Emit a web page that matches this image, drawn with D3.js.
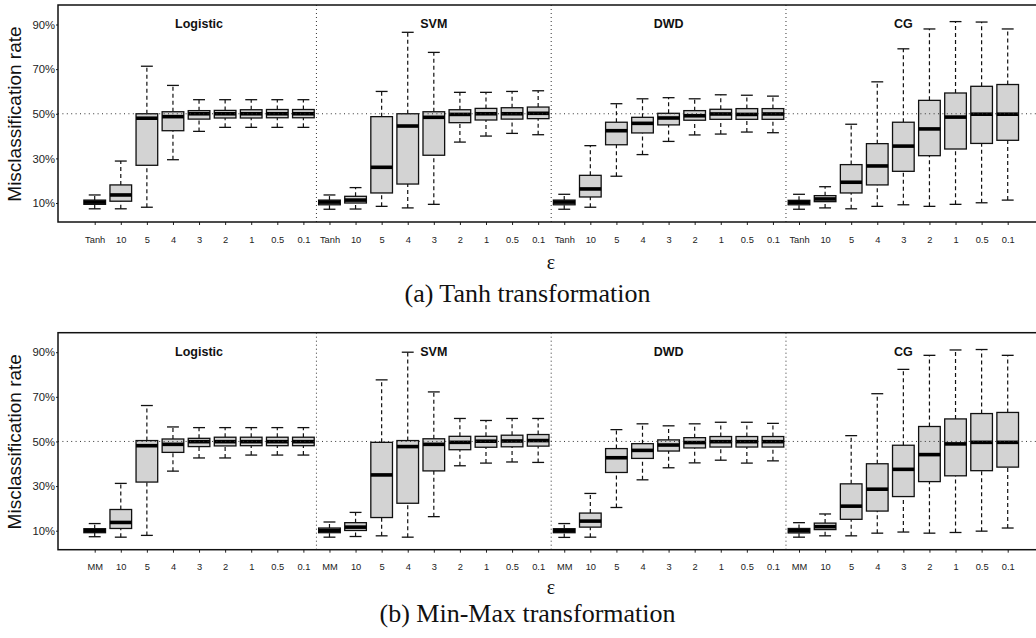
<!DOCTYPE html>
<html>
<head>
<meta charset="utf-8">
<script src="https://cdn.jsdelivr.net/npm/d3@7"></script>
<style>
  body { margin: 0; background: #fff; }
  svg { display: block; }
  .tick text { font-family: "Liberation Sans", Arial, sans-serif; fill: #222; }
</style>
</head>
<body>
<script>
// panel names and x labels
const methods = ['Logistic', 'SVM', 'DWD', 'CG'];
const epsTanh = ['Tanh', '10', '5', '4', '3', '2', '1', '0.5', '0.1'];
const epsMinMax = ['MM', '10', '5', '4', '3', '2', '1', '0.5', '0.1'];
const yTicks = [10, 30, 50, 70, 90];

// boxes: [lower whisker, Q1, median, Q3, upper whisker] in %
const tanhLogistic = [
  [7.4, 9.4, 10.4, 11.3, 13.6], [7.4, 10.8, 13.6, 18.1, 28.8], [8.1, 26.9, 48.0, 50.0, 71.3],
  [29.4, 42.4, 48.7, 50.9, 62.7], [42.1, 47.6, 50.0, 51.4, 56.3], [43.9, 48.1, 50.0, 51.5, 56.3],
  [43.9, 48.1, 50.0, 51.8, 56.3], [43.9, 48.2, 50.0, 51.9, 56.3], [43.9, 48.2, 50.0, 51.9, 56.3],
];
const tanhSVM = [
  [7.2, 9.2, 10.4, 11.3, 13.6], [7.3, 10.0, 11.3, 13.0, 16.9], [8.5, 14.5, 26.0, 48.7, 60.0],
  [7.8, 18.5, 44.5, 50.0, 86.5], [9.4, 31.4, 48.4, 50.9, 77.5], [37.3, 46.0, 49.7, 51.8, 59.6],
  [40.0, 47.2, 50.0, 52.4, 59.6], [41.2, 47.6, 50.0, 52.7, 60.0], [40.6, 47.8, 50.2, 53.0, 60.3],
];
const tanhDWD = [
  [7.2, 9.2, 10.4, 11.3, 13.9], [8.1, 12.7, 16.3, 22.4, 35.7], [22.0, 36.1, 42.4, 46.2, 54.5],
  [31.7, 41.4, 45.7, 48.4, 56.7], [37.6, 45.0, 48.1, 50.2, 57.2], [40.5, 47.1, 49.1, 51.4, 56.7],
  [40.9, 47.5, 49.9, 52.0, 58.5], [41.8, 47.5, 49.7, 52.3, 58.3], [41.5, 47.5, 49.9, 52.3, 57.9],
];
const tanhCG = [
  [7.2, 9.2, 10.3, 11.2, 13.9], [7.8, 10.6, 11.8, 13.3, 17.3], [7.4, 14.5, 19.3, 27.2, 45.3],
  [8.5, 18.1, 26.6, 36.6, 64.3], [9.2, 24.2, 35.5, 46.2, 79.1], [8.5, 31.2, 43.2, 56.0, 88.0],
  [9.4, 34.2, 48.5, 59.3, 91.3], [10.1, 36.7, 49.8, 62.3, 91.1], [11.3, 38.1, 49.8, 63.1, 88.0],
];
const mmLogistic = [
  [7.3, 9.1, 10.0, 10.9, 13.2], [7.1, 11.0, 13.7, 19.5, 31.2], [7.9, 31.8, 48.1, 50.4, 66.1],
  [36.7, 45.1, 48.7, 51.1, 56.5], [42.6, 47.7, 49.9, 51.4, 56.2], [42.6, 48.0, 49.9, 51.9, 56.2],
  [43.9, 48.1, 49.9, 51.9, 56.2], [43.9, 48.1, 49.9, 51.9, 56.2], [43.9, 48.1, 49.9, 51.9, 56.2],
];
const mmSVM = [
  [7.1, 9.1, 10.1, 11.2, 13.9], [7.4, 10.1, 11.6, 13.6, 18.2], [7.7, 15.9, 35.0, 49.6, 77.6],
  [7.1, 22.3, 47.7, 50.4, 90.0], [16.3, 36.8, 48.7, 51.2, 72.2], [39.1, 46.3, 49.6, 52.3, 60.3],
  [40.3, 47.4, 50.1, 52.3, 59.4], [40.8, 47.6, 50.2, 52.8, 60.3], [40.6, 47.9, 50.4, 53.1, 60.3],
];
const mmDWD = [
  [7.0, 9.1, 10.0, 10.9, 13.2], [7.1, 11.6, 14.3, 17.9, 26.7], [20.4, 36.1, 42.7, 46.8, 55.3],
  [32.8, 42.4, 46.0, 49.0, 57.9], [38.2, 45.7, 48.4, 50.7, 57.0], [40.4, 47.1, 49.5, 51.7, 57.9],
  [41.6, 47.5, 49.9, 52.2, 58.6], [40.3, 47.5, 49.9, 52.2, 58.6], [41.3, 47.5, 49.9, 52.2, 58.1],
];
const mmCG = [
  [7.1, 9.0, 10.0, 11.0, 13.6], [7.7, 10.5, 11.8, 13.4, 17.5], [7.7, 15.1, 21.0, 31.0, 52.6],
  [8.9, 18.8, 28.6, 40.0, 71.4], [9.4, 25.3, 37.5, 48.3, 82.3], [8.9, 32.0, 44.1, 56.7, 88.6],
  [9.2, 34.6, 48.9, 60.1, 91.0], [9.8, 36.9, 49.6, 62.5, 91.2], [11.2, 38.5, 49.6, 63.0, 88.6],
];

const figures = [
  { eps: epsTanh, boxes: [tanhLogistic, tanhSVM, tanhDWD, tanhCG], caption: '(a) Tanh transformation', dy: 0, epsY: 269, capY: 302 },
  { eps: epsMinMax, boxes: [mmLogistic, mmSVM, mmDWD, mmCG], caption: '(b) Min-Max transformation', dy: 327.7, epsY: 266, capY: 622 },
];

const width = 1036, height = 638;
const frame = { left: 58, right: 1040, top: 5, bottom: 222 };
const sans = '"Liberation Sans", Arial, sans-serif';
const serif = '"Liberation Serif", "Times New Roman", serif';

const x = d3.scaleLinear().domain([1, 36]).range([94.7, 1007.7]);
const y = d3.scaleLinear().domain([10, 90]).range([203, 24.5]);
const step = x(2) - x(1);
const bw = step * 0.83;
const cap = bw * 0.55;

const svg = d3.select('body').append('svg')
  .attr('width', width)
  .attr('height', height);

figures.forEach((fig) => {
  const g = svg.append('g').attr('transform', `translate(0,${fig.dy})`);
  const labels = methods.flatMap(() => fig.eps);

  // x axis
  g.append('g')
    .attr('transform', `translate(0,${frame.bottom})`)
    .call(d3.axisBottom(x)
      .tickValues(d3.range(1, 37))
      .tickFormat((i) => labels[i - 1])
      .tickSize(3)
      .tickPadding(11))
    .call((a) => a.select('.domain').remove())
    .call((a) => a.selectAll('text').attr('font-size', 9.3))
    .call((a) => a.selectAll('line').attr('stroke', '#222'));

  // y axis
  g.append('g')
    .attr('transform', `translate(${frame.left},0)`)
    .call(d3.axisLeft(y)
      .tickValues(yTicks)
      .tickFormat((d) => `${d}%`)
      .tickSize(2)
      .tickPadding(1))
    .call((a) => a.select('.domain').remove())
    .call((a) => a.selectAll('text').attr('font-size', 11.3))
    .call((a) => a.selectAll('line').attr('stroke', '#222'));

  // boxes
  fig.boxes.forEach((panel, p) => {
    const bg = g.append('g')
      .selectAll('g')
      .data(panel)
      .join('g')
      .attr('transform', (d, i) => `translate(${x(p * 9 + i + 1)},0)`);

    bg.append('line')
      .attr('y1', (d) => y(d[0])).attr('y2', (d) => y(d[1]))
      .attr('stroke', '#111').attr('stroke-width', 1.2).attr('stroke-dasharray', '4,3');
    bg.append('line')
      .attr('y1', (d) => y(d[3])).attr('y2', (d) => y(d[4]))
      .attr('stroke', '#111').attr('stroke-width', 1.2).attr('stroke-dasharray', '4,3');
    bg.append('line')
      .attr('x1', -cap / 2).attr('x2', cap / 2)
      .attr('y1', (d) => y(d[0])).attr('y2', (d) => y(d[0]))
      .attr('stroke', '#111').attr('stroke-width', 1.3);
    bg.append('line')
      .attr('x1', -cap / 2).attr('x2', cap / 2)
      .attr('y1', (d) => y(d[4])).attr('y2', (d) => y(d[4]))
      .attr('stroke', '#111').attr('stroke-width', 1.3);
    bg.append('rect')
      .attr('x', -bw / 2).attr('width', bw)
      .attr('y', (d) => y(d[3]))
      .attr('height', (d) => y(d[1]) - y(d[3]))
      .attr('fill', '#d3d3d3').attr('stroke', '#111').attr('stroke-width', 1.3);
    bg.append('line')
      .attr('x1', -bw / 2).attr('x2', bw / 2)
      .attr('y1', (d) => y(d[2])).attr('y2', (d) => y(d[2]))
      .attr('stroke', '#000').attr('stroke-width', 3.6);

    g.append('text')
      .attr('x', x(p * 9 + 5)).attr('y', 28.3)
      .attr('text-anchor', 'middle')
      .attr('font-family', sans).attr('font-weight', 'bold').attr('font-size', 12.5)
      .attr('fill', '#111')
      .text(methods[p]);
  });

  // separators and 50% reference
  g.append('g')
    .selectAll('line')
    .data([9.5, 18.5, 27.5])
    .join('line')
    .attr('x1', (d) => x(d)).attr('x2', (d) => x(d))
    .attr('y1', frame.top).attr('y2', frame.bottom)
    .attr('stroke', '#333').attr('stroke-width', 1).attr('stroke-dasharray', '1,3');
  g.append('line')
    .attr('x1', frame.left).attr('x2', frame.right)
    .attr('y1', y(50)).attr('y2', y(50))
    .attr('stroke', '#333').attr('stroke-width', 1).attr('stroke-dasharray', '1,3.4');

  g.append('rect')
    .attr('x', frame.left).attr('y', frame.top)
    .attr('width', frame.right - frame.left).attr('height', frame.bottom - frame.top)
    .attr('fill', 'none').attr('stroke', '#111').attr('stroke-width', 1.5);

  g.append('text')
    .attr('transform', `translate(21,${(y(10) + y(90)) / 2 + 0.3}) rotate(-90)`)
    .attr('text-anchor', 'middle')
    .attr('font-family', sans).attr('font-size', 19)
    .attr('fill', '#111')
    .text('Misclassification rate');

  g.append('text')
    .attr('x', 551).attr('y', fig.epsY)
    .attr('text-anchor', 'middle')
    .attr('font-family', serif).attr('font-size', 20)
    .attr('fill', '#111')
    .text('ε');

  svg.append('text')
    .attr('x', 527.5).attr('y', fig.capY)
    .attr('text-anchor', 'middle')
    .attr('font-family', serif).attr('font-size', 26)
    .attr('fill', '#111')
    .text(fig.caption);
});
</script>
</body>
</html>
